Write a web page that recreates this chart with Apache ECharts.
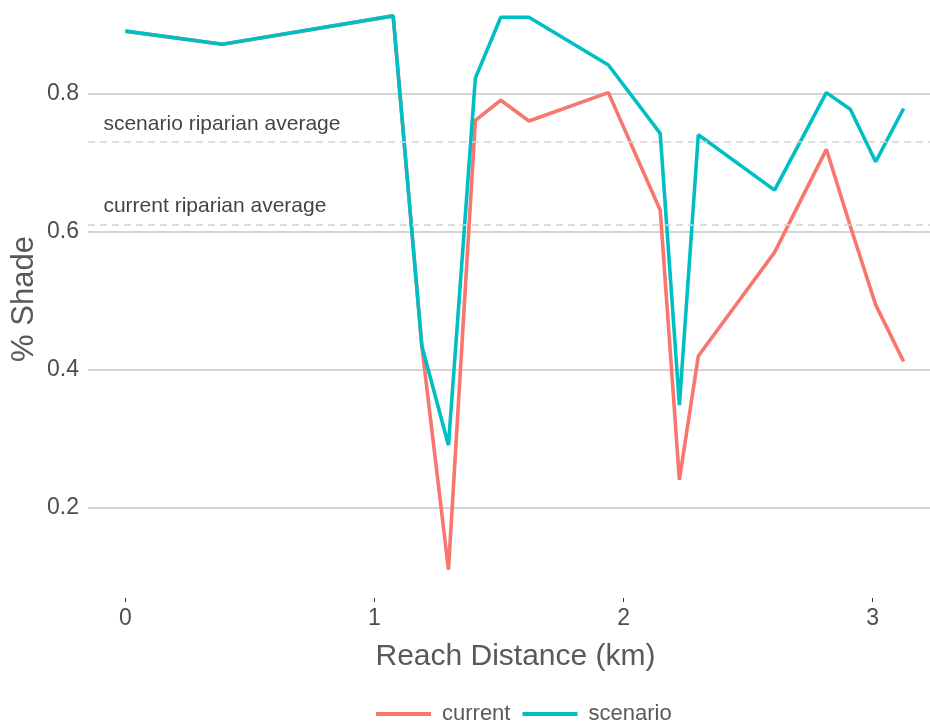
<!DOCTYPE html>
<html>
<head>
<meta charset="utf-8">
<script src="https://cdn.jsdelivr.net/npm/echarts@6/dist/echarts.min.js"></script>
<style>
html,body{margin:0;padding:0;background:#fff;}
#chart{width:930px;height:728px;}
</style>
</head>
<body>
<div id="chart"></div>
<script>
// Reach distance (km)
var distance = [0, 0.39, 1.075, 1.19, 1.297, 1.405, 1.507, 1.62, 1.939, 2.147, 2.224, 2.30, 2.606, 2.814, 2.91, 3.012, 3.124];
// % Shade
var current  = [0.890, 0.871, 0.912, 0.435, 0.111, 0.761, 0.790, 0.760, 0.801, 0.631, 0.241, 0.420, 0.570, 0.719, 0.608, 0.494, 0.412];
var scenario = [0.890, 0.871, 0.912, 0.435, 0.291, 0.822, 0.910, 0.910, 0.841, 0.742, 0.349, 0.740, 0.660, 0.801, 0.777, 0.701, 0.778];
// riparian averages
var averageNames  = ['scenario riparian average', 'current riparian average'];
var averageValues = [0.731, 0.611];
var averageLabelY = [0.7556, 0.637];
var averageLabelX = -0.088;
// tick labels
var xTicks = [0, 1, 2, 3];
var yTicks = [0.2, 0.4, 0.6, 0.8];

function pairs(xs, ys) { return xs.map(function (x, i) { return [x, ys[i]]; }); }

var FONT = "'Liberation Sans', Arial, sans-serif";
var chart = echarts.init(document.getElementById('chart'), null, {renderer: 'canvas'});

var option = {
  animation: false,
  backgroundColor: '#ffffff',
  grid: {left: 88, right: 0, top: 0, bottom: 130, containLabel: false, outerBoundsMode: 'none'},
  legend: {
    data: ['current', 'scenario'],
    left: 371, top: 698,
    icon: 'rect', itemWidth: 55, itemHeight: 4, itemGap: 12,
    textStyle: {fontFamily: FONT, fontSize: 22, color: '#595959', padding: [0, 0, 0, 6]}
  },
  xAxis: {
    type: 'value', min: -0.15, max: 3.23,
    name: 'Reach Distance (km)', nameLocation: 'middle', nameGap: 44, nameMoveOverlap: false,
    nameTextStyle: {fontFamily: FONT, fontSize: 30, color: '#595959', padding: [0, 0, 0, 13]},
    axisLine: {show: false},
    axisTick: {show: true, customValues: xTicks, length: 4, lineStyle: {color: '#333', width: 1}},
    axisLabel: {customValues: xTicks, fontFamily: FONT, fontSize: 23, color: '#4d4d4d', margin: 9},
    splitLine: {show: false}
  },
  yAxis: {
    type: 'value', min: 0.07, max: 0.935,
    name: '% Shade', nameLocation: 'middle', nameGap: 48, nameRotate: 90, nameMoveOverlap: false,
    nameTextStyle: {fontFamily: FONT, fontSize: 31, color: '#595959'},
    axisLine: {show: false},
    axisTick: {show: false, customValues: yTicks},
    axisLabel: {customValues: yTicks, fontFamily: FONT, fontSize: 23, color: '#4d4d4d', margin: 9,
      formatter: function (v) { return v.toFixed(1); }},
    splitLine: {show: true, lineStyle: {color: '#c4c4c4', width: 1.5}}
  },
  series: [
    {
      name: 'current', type: 'line', data: pairs(distance, current),
      showSymbol: false, symbol: 'none', color: '#F8766D',
      lineStyle: {width: 3.6, color: '#F8766D'}, z: 3,
      markLine: {
        silent: true, symbol: ['none', 'none'],
        lineStyle: {type: [7, 5], color: '#d3d3d3', width: 1.5},
        label: {show: false},
        data: averageValues.map(function (v) { return {yAxis: v}; })
      }
    },
    {
      name: 'scenario', type: 'line', data: pairs(distance, scenario),
      showSymbol: false, symbol: 'none', color: '#00BFC4',
      lineStyle: {width: 3.6, color: '#00BFC4'}, z: 4
    },
    {
      name: 'labels', type: 'scatter', symbolSize: 0, silent: true, z: 5,
      data: averageNames.map(function (n, i) { return {value: [averageLabelX, averageLabelY[i]], name: n}; }),
      label: {show: true, position: 'inside', align: 'left', verticalAlign: 'middle',
        formatter: function (p) { return p.name; },
        fontFamily: FONT, fontSize: 21, color: '#111111'}
    }
  ]
};
chart.setOption(option);
</script>
</body>
</html>
